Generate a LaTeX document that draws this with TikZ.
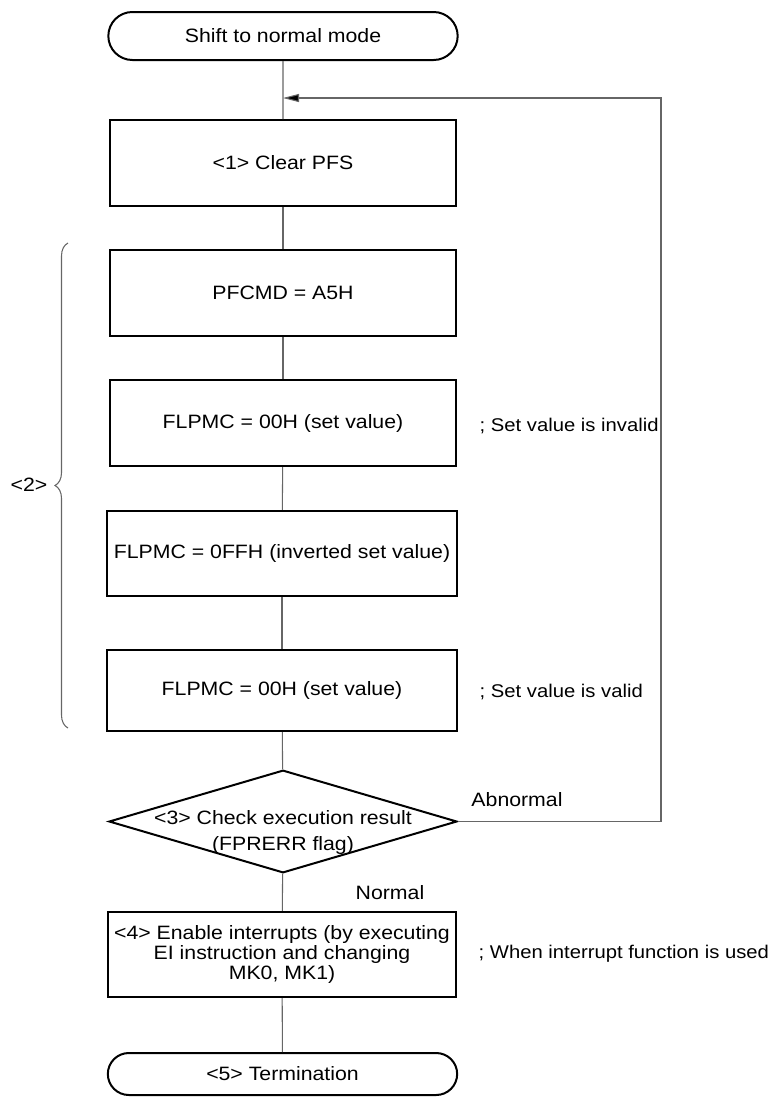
\documentclass[tikz,border=0pt]{standalone}
\usepackage{fontspec}
\setmainfont{Liberation Sans}[FakeStretch=1.1]
\usetikzlibrary{arrows.meta,positioning,shapes.geometric,shapes.misc,calc,decorations.pathreplacing}
\tikzset{
  term/.style={draw,rounded rectangle,line width=1.5pt,minimum width=262pt,minimum height=36pt,inner sep=0pt},
  blk/.style={draw,rectangle,line width=1.5pt,minimum width=260pt,minimum height=64.5pt,align=center,inner sep=0pt},
  chkbox/.style={draw,diamond,line width=1.5pt,minimum width=261pt,minimum height=77pt,inner sep=0pt,aspect=3.4},
  link/.style={draw=black!60,line width=0.8pt},
  arr/.style={link,-{Triangle[length=12pt,width=6pt,fill=black]}},
  note/.style={anchor=west,font=\fontsize{13.8}{15}\selectfont},
}
\begin{document}
\begin{tikzpicture}[x=0.75pt,y=-0.75pt,font=\fontsize{14.5}{15}\selectfont]
\useasboundingbox (0,0) rectangle (776,1103);
\node[term] (start) at (283,36) {Shift to normal mode};
\node[blk] (s1) at (283,163) {<1> Clear PFS};
\node[blk] (s2) at (283,293) {PFCMD = A5H};
\node[blk] (s3) at (283,423) {FLPMC = 00H (set value)};
\node[blk,minimum width=262.5pt,minimum height=64pt] (s4) at (282,553.5) {FLPMC = 0FFH (inverted set value)};
\node[blk,minimum width=262.5pt,minimum height=61pt] (s5) at (282,690.5) {FLPMC = 00H (set value)};
\node[chkbox] (chk) at (283,821.5) {};
\node[align=center,font=\fontsize{14.5}{20}\selectfont] (chktxt) at ($(chk)+(0,11)$) {<3> Check execution result\\(FPRERR flag)};
\node[blk,minimum width=261pt,minimum height=64pt] (s6) at (282,954.5) {<4> Enable interrupts (by executing\\EI instruction and changing\\MK0, MK1)};
\node[term,minimum height=31.5pt] (stop) at (282.5,1074) {<5> Termination};
% main flow
\foreach \a/\b in {start/s1,s1/s2,s2/s3,s3/s4,s4/s5,s5/chk,chk/s6,s6/stop}
  \draw[link] (\a) -- (\b);
% retry loop
\coordinate (j) at (283,98);
\coordinate (loop) at (661,98);
\draw[arr] (chk.east) -| (loop) -- (j);
\node (abn) at (517,800) {Abnormal};
\node (nrm) at (390,893) {Normal};
% notes
\node[note] (n3) at (475,426) {; Set value is invalid};
\node[note] (n5) at (475,692) {; Set value is valid};
\node[note] (n6) at (474,954) {; When interrupt function is used};
% group <2>
\draw[link,decorate,decoration={brace,amplitude=9.75pt}] (68,728) -- (68,243);
\node[anchor=east] (g2) at (52,485) {<2>};
\end{tikzpicture}
\end{document}
